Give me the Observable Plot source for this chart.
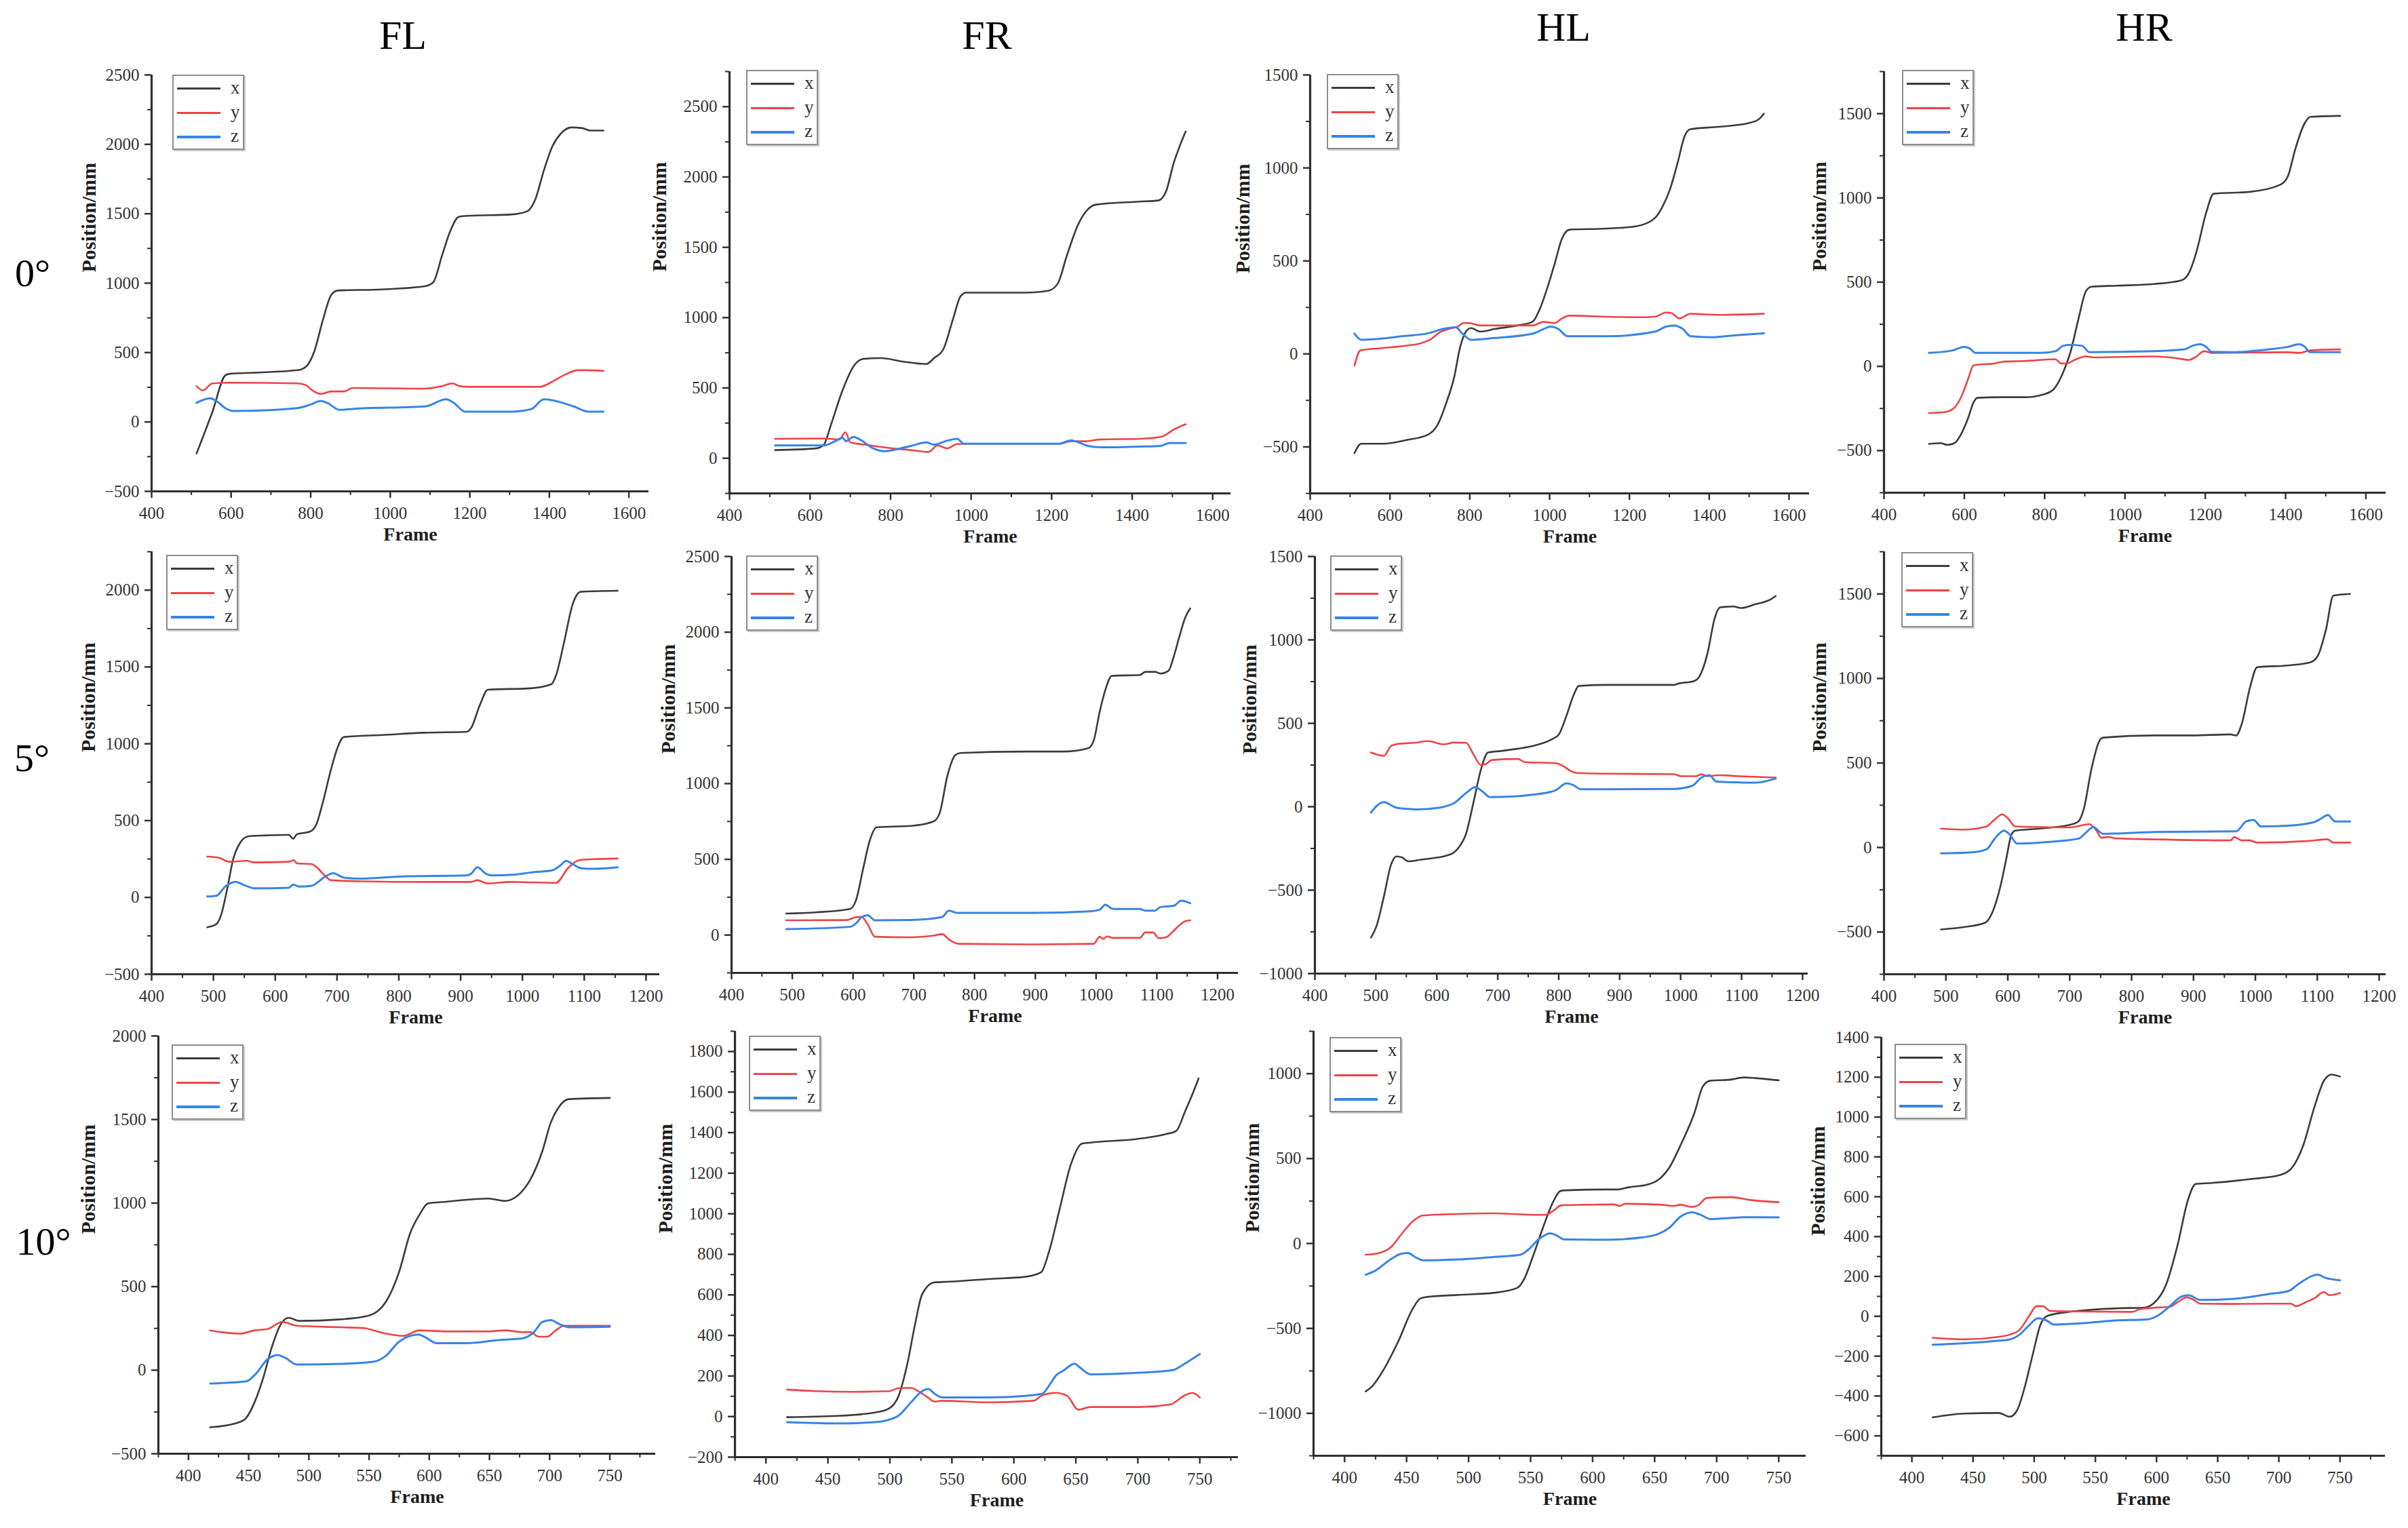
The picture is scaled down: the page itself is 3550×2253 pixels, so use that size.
<!DOCTYPE html>
<html>
<head>
<meta charset="utf-8">
<script src="https://cdn.jsdelivr.net/npm/d3@7"></script>
<script src="https://cdn.jsdelivr.net/npm/@observablehq/plot@0.6"></script>
<style>
  html, body { margin: 0; padding: 0; background: #fff; }
  #root { position: relative; width: 3550px; height: 2253px; overflow: hidden; background: #fff; font-family: "Liberation Serif", "Times New Roman", serif; }
  #root svg, #root svg text { font-family: "Liberation Serif", "Times New Roman", serif !important; }
  .ttl { position: absolute; transform: translate(-50%, -50%); line-height: 1; font-size: 60px; color: #000; white-space: nowrap; }
  .legend { position: absolute; box-sizing: border-box; width: 106px; height: 111px; border: 2px solid #8c8c8c; box-shadow: 2px 2px 0 #c9c9c9; background: #fff; }
  .lg-line { position: absolute; left: 5px; width: 64px; }
  .lg-text { position: absolute; left: 84px; font-size: 27px; line-height: 1; color: #333; transform: translateY(-55%); }
</style>
</head>
<body>
<div id="root"></div>
<script>
// ---------- labels ----------
const columnTitles = ["FL", "FR", "HL", "HR"];
const rowTitles = ["0°", "5°", "10°"];
const seriesNames = ["x", "y", "z"];
const seriesColors = ["#3b3b3b", "#ee4347", "#3784e6"];
const xLabel = "Frame";
const yLabel = "Position/mm";

// ---------- data: [frame, position mm] ----------
const FL_0_x = [[513,-227],[553,74],[585,335],[596,347],[660,355],[767,373],[788,398],[809,508],[831,738],[852,917],[868,947],[980,955],[1087,978],[1108,1006],[1130,1197],[1151,1376],[1172,1478],[1194,1485],[1301,1494],[1343,1516],[1365,1606],[1386,1810],[1408,1988],[1429,2078],[1456,2122],[1482,2117],[1504,2099],[1536,2099]];
const FL_0_y = [[513,258],[529,227],[553,278],[596,283],[767,278],[788,265],[804,227],[825,202],[852,220],[884,220],[905,245],[1087,240],[1130,258],[1157,278],[1172,260],[1194,253],[1376,253],[1408,291],[1440,342],[1472,373],[1493,373],[1536,368]];
const FL_0_z = [[513,138],[547,171],[563,151],[585,100],[606,79],[767,100],[799,125],[825,151],[841,138],[873,87],[905,94],[1087,112],[1141,163],[1157,143],[1189,74],[1301,74],[1354,92],[1386,163],[1408,156],[1461,112],[1499,74],[1536,74]];

const FR_0_x = [[513,58],[615,70],[634,96],[653,247],[681,486],[710,662],[733,707],[776,712],[832,687],[889,670],[908,712],[931,775],[955,989],[974,1153],[988,1178],[1135,1178],[1191,1191],[1215,1241],[1238,1443],[1267,1669],[1290,1770],[1309,1803],[1418,1825],[1465,1833],[1484,1896],[1503,2097],[1522,2248],[1533,2324]];
const FR_0_y = [[513,138],[634,141],[672,133],[688,184],[700,113],[738,96],[804,70],[851,58],[894,45],[917,91],[941,70],[965,101],[993,103],[1219,103],[1248,121],[1286,121],[1319,133],[1418,138],[1474,154],[1503,204],[1533,242]];
const FR_0_z = [[513,91],[634,91],[662,121],[681,146],[689,121],[708,151],[724,133],[757,70],[785,50],[814,63],[851,88],[889,113],[908,96],[936,121],[965,138],[983,103],[1135,103],[1219,103],[1248,128],[1267,113],[1290,88],[1323,78],[1418,83],[1470,88],[1493,108],[1533,108]];

const HL_0_x = [[511,-534],[528,-483],[584,-483],[640,-464],[696,-433],[719,-382],[742,-258],[761,-124],[775,29],[789,115],[803,139],[826,120],[863,134],[919,153],[957,172],[975,239],[994,353],[1013,487],[1031,620],[1050,668],[1143,674],[1218,687],[1264,731],[1283,792],[1302,887],[1320,1021],[1339,1174],[1353,1208],[1423,1221],[1497,1240],[1525,1263],[1537,1292]];
const HL_0_y = [[511,-63],[526,19],[584,32],[640,44],[677,57],[700,76],[724,115],[747,134],[770,147],[784,166],[798,166],[826,153],[957,153],[985,172],[1013,166],[1031,191],[1050,206],[1143,200],[1236,197],[1264,200],[1292,223],[1306,219],[1325,191],[1353,216],[1423,210],[1537,216]];
const HL_0_z = [[511,109],[528,76],[565,80],[630,95],[696,111],[733,134],[765,143],[779,115],[803,76],[863,86],[957,109],[985,134],[1003,147],[1022,134],[1045,95],[1143,95],[1264,120],[1292,147],[1311,153],[1334,134],[1353,95],[1404,90],[1469,101],[1537,111]];

const HR_0_x = [[512,-460],[542,-456],[557,-466],[575,-456],[594,-393],[609,-309],[623,-214],[632,-187],[694,-183],[751,-183],[798,-166],[822,-137],[846,-36],[865,90],[884,279],[903,447],[917,473],[979,479],[1073,489],[1140,510],[1159,553],[1178,679],[1202,910],[1221,1025],[1311,1036],[1387,1078],[1406,1130],[1424,1288],[1448,1445],[1462,1481],[1536,1487]];
const HR_0_y = [[512,-277],[552,-271],[575,-246],[594,-172],[609,-78],[623,6],[637,11],[675,17],[694,27],[751,32],[827,42],[841,17],[855,17],[874,38],[903,59],[922,53],[1073,59],[1130,48],[1159,38],[1178,59],[1197,90],[1216,80],[1406,84],[1434,80],[1462,95],[1536,101]];
const HR_0_z = [[512,80],[571,95],[599,116],[613,107],[628,80],[694,80],[789,80],[827,90],[846,122],[865,128],[893,122],[912,84],[1073,90],[1149,101],[1168,122],[1187,132],[1202,116],[1216,86],[1263,84],[1358,101],[1406,116],[1434,132],[1448,116],[1461,84],[1536,84]];

const FL_5_x = [[490,-194],[505,-173],[512,-120],[522,49],[532,249],[543,354],[556,397],[567,401],[580,403],[622,407],[629,382],[635,411],[656,428],[666,470],[677,618],[690,829],[701,977],[711,1044],[773,1057],[841,1072],[910,1078],[917,1103],[931,1251],[944,1352],[1013,1361],[1047,1388],[1054,1441],[1068,1673],[1081,1905],[1094,1989],[1154,1996]];
const FL_5_y = [[490,266],[508,259],[526,232],[553,238],[567,228],[622,232],[630,243],[635,222],[659,217],[666,200],[680,143],[690,112],[738,105],[841,101],[917,101],[927,112],[944,91],[979,101],[1054,95],[1075,196],[1092,243],[1116,249],[1154,253]];
const FL_5_z = [[490,6],[505,11],[519,70],[536,101],[550,80],[567,59],[622,63],[629,84],[639,70],[659,76],[680,133],[694,158],[711,129],[738,122],[807,137],[910,143],[917,154],[927,196],[941,154],[951,143],[985,148],[1020,165],[1047,175],[1061,207],[1071,238],[1081,217],[1095,190],[1116,186],[1154,196]];

const FR_5_x = [[490,142],[539,150],[595,172],[605,232],[617,446],[627,618],[639,712],[696,721],[733,751],[743,811],[755,1047],[768,1187],[777,1202],[884,1212],[946,1212],[987,1234],[996,1283],[1006,1476],[1015,1616],[1026,1712],[1072,1717],[1081,1738],[1097,1738],[1106,1727],[1119,1745],[1128,1841],[1137,1970],[1147,2099],[1155,2157]];
const FR_5_y = [[490,97],[589,99],[605,118],[614,120],[624,71],[636,-11],[696,-15],[733,-4],[747,6],[758,-30],[774,-58],[884,-62],[996,-58],[1006,-11],[1012,-26],[1018,-9],[1028,-19],[1072,-19],[1081,17],[1094,17],[1103,-21],[1115,-15],[1125,17],[1137,64],[1147,92],[1155,97]];
const FR_5_z = [[490,39],[595,54],[605,77],[614,118],[624,131],[636,97],[696,99],[746,118],[758,161],[771,146],[884,146],[990,157],[1006,167],[1015,200],[1028,172],[1072,172],[1081,161],[1097,161],[1106,185],[1128,193],[1140,227],[1155,210]];

const HL_5_x = [[492,-784],[501,-716],[513,-541],[525,-346],[534,-298],[543,-304],[553,-327],[574,-317],[617,-292],[635,-249],[648,-161],[660,23],[672,218],[684,325],[708,335],[733,348],[757,364],[788,403],[800,432],[813,549],[824,665],[833,724],[879,730],[989,730],[995,737],[1022,753],[1031,782],[1044,918],[1056,1132],[1065,1195],[1087,1200],[1099,1191],[1123,1214],[1148,1243],[1156,1263]];
const HL_5_y = [[492,325],[513,305],[525,364],[537,377],[562,383],[586,393],[611,374],[629,385],[648,383],[660,315],[672,251],[681,257],[690,280],[733,286],[745,267],[794,261],[806,247],[818,218],[830,202],[873,198],[989,195],[1001,183],[1025,183],[1034,195],[1044,183],[1062,189],[1096,183],[1156,175]];
const HL_5_z = [[492,-35],[501,4],[513,27],[534,-6],[550,-12],[568,-16],[604,-6],[629,23],[648,82],[663,117],[675,91],[687,58],[727,62],[757,72],[794,97],[813,140],[824,130],[836,105],[873,105],[989,107],[1019,125],[1034,175],[1047,189],[1059,150],[1093,146],[1123,144],[1156,169]];

const HR_5_x = [[492,-485],[529,-471],[563,-446],[575,-385],[588,-231],[597,-77],[606,77],[612,100],[652,112],[701,135],[714,154],[723,231],[735,462],[748,631],[754,650],[837,663],[898,663],[960,669],[969,663],[978,731],[991,942],[1003,1067],[1052,1077],[1089,1096],[1101,1135],[1114,1288],[1126,1490],[1153,1500]];
const HR_5_y = [[492,112],[529,106],[566,125],[578,163],[591,196],[600,173],[612,125],[652,121],[701,119],[732,138],[744,96],[751,58],[763,62],[775,54],[837,48],[960,42],[966,62],[978,42],[991,42],[1003,29],[1083,38],[1117,48],[1126,29],[1153,29]];
const HR_5_z = [[492,-35],[541,-29],[566,-10],[578,48],[594,100],[603,77],[615,23],[652,29],[714,52],[726,87],[738,121],[754,81],[775,83],[837,92],[969,96],[985,154],[997,163],[1009,125],[1052,129],[1095,150],[1107,173],[1117,192],[1129,154],[1153,154]];

const FL_10_x = [[418,-342],[441,-314],[448,-285],[455,-190],[462,-48],[469,133],[476,266],[483,314],[492,295],[526,304],[550,327],[557,352],[564,409],[575,589],[584,817],[592,932],[599,998],[614,1008],[649,1027],[663,1013],[675,1055],[684,1141],[694,1312],[701,1483],[707,1568],[716,1622],[750,1629]];
const FL_10_y = [[418,238],[427,228],[443,219],[455,238],[466,247],[478,289],[490,266],[526,257],[547,251],[554,238],[564,219],[578,205],[592,238],[614,232],[649,232],[663,238],[677,228],[684,228],[691,200],[698,200],[705,238],[712,266],[750,266]];
const FL_10_z = [[418,-80],[448,-67],[455,-29],[466,67],[474,91],[480,76],[490,34],[526,38],[554,51],[564,86],[575,171],[591,213],[596,200],[606,162],[631,162],[659,181],[677,190],[687,228],[694,289],[701,300],[708,276],[716,257],[750,260]];

const FR_10_x = [[417,-3],[456,3],[487,19],[499,39],[507,102],[514,258],[520,446],[526,603],[536,662],[548,665],[579,678],[609,689],[622,712],[628,806],[637,1025],[646,1244],[655,1346],[662,1351],[701,1370],[723,1393],[731,1409],[738,1503],[744,1589],[749,1667]];
const FR_10_y = [[417,133],[441,125],[471,122],[499,125],[508,141],[517,141],[523,125],[530,97],[536,74],[542,78],[579,70],[616,78],[622,102],[628,113],[634,117],[643,102],[652,34],[662,47],[701,47],[726,59],[738,105],[744,117],[750,94]];
const FR_10_z = [[417,-28],[456,-34],[487,-28],[499,-16],[507,5],[517,70],[526,125],[531,136],[536,113],[542,94],[579,94],[609,102],[623,113],[628,149],[634,203],[640,227],[649,261],[653,243],[662,208],[701,216],[729,230],[735,250],[750,308]];

const HL_10_x = [[417,-871],[422,-843],[431,-749],[443,-581],[455,-384],[461,-324],[466,-315],[491,-303],[521,-290],[539,-262],[545,-206],[551,-94],[560,94],[568,243],[574,309],[578,313],[611,318],[620,318],[629,331],[644,346],[653,375],[662,449],[671,581],[682,768],[689,927],[695,959],[710,964],[722,978],[731,974],[750,961]];
const HL_10_y = [[417,-66],[428,-56],[437,-24],[446,56],[455,131],[463,165],[491,174],[521,178],[551,169],[562,169],[568,191],[575,225],[596,228],[617,230],[622,221],[626,234],[656,228],[665,221],[671,228],[680,215],[685,225],[692,268],[704,272],[713,272],[725,258],[750,243]];
const HL_10_z = [[417,-184],[425,-159],[437,-94],[445,-62],[451,-56],[458,-84],[464,-99],[491,-94],[521,-79],[542,-66],[548,-37],[557,28],[566,60],[571,47],[577,24],[611,22],[641,37],[653,56],[662,94],[671,159],[680,184],[687,169],[695,144],[710,150],[722,155],[750,154]];

const HR_10_x = [[417,-507],[443,-488],[471,-485],[480,-504],[486,-472],[492,-361],[499,-187],[505,-44],[511,3],[536,27],[567,40],[589,43],[598,67],[608,162],[617,352],[626,590],[632,664],[645,669],[676,688],[701,709],[710,740],[720,859],[729,1049],[737,1184],[743,1213],[750,1203]];
const HR_10_y = [[417,-108],[443,-116],[468,-105],[480,-92],[488,-68],[496,3],[502,51],[507,51],[513,27],[536,24],[580,22],[586,35],[598,43],[611,48],[617,70],[625,95],[629,87],[636,63],[660,62],[691,63],[710,63],[714,51],[722,71],[729,90],[737,122],[741,106],[750,117]];
const HR_10_z = [[417,-143],[443,-135],[468,-124],[480,-116],[488,-92],[496,-44],[503,-10],[510,-21],[516,-41],[536,-36],[567,-21],[592,-16],[601,3],[611,51],[620,98],[626,106],[636,82],[660,86],[691,111],[708,127],[716,162],[732,209],[738,193],[750,181]];

// ---------- axis ticks (per row for x, per panel for y) ----------
const xTicksByRow = [
  [400, 600, 800, 1000, 1200, 1400, 1600],
  [400, 500, 600, 700, 800, 900, 1000, 1100, 1200],
  [400, 450, 500, 550, 600, 650, 700, 750]
];
const xMinorByRow = [100, 50, 25];
const xDomains = [
  [400, 1650], [400, 1645], [400, 1651], [400, 1650],
  [400, 1222], [400, 1234], [400, 1209], [400, 1211],
  [375, 788], [375, 781], [375, 772], [375, 787]
];
const yDomains = [
  [-500, 2500], [-250, 2750], [-750, 1500], [-750, 1750],
  [-500, 2250], [-250, 2500], [-1000, 1500], [-750, 1750],
  [-500, 2000], [-200, 1900], [-1250, 1250], [-700, 1400]
];
const yTicks = [
  [-500, 0, 500, 1000, 1500, 2000, 2500], [0, 500, 1000, 1500, 2000, 2500], [-500, 0, 500, 1000, 1500], [-500, 0, 500, 1000, 1500],
  [-500, 0, 500, 1000, 1500, 2000], [0, 500, 1000, 1500, 2000, 2500], [-1000, -500, 0, 500, 1000, 1500], [-500, 0, 500, 1000, 1500],
  [-500, 0, 500, 1000, 1500, 2000], [-200, 0, 200, 400, 600, 800, 1000, 1200, 1400, 1600, 1800], [-1000, -500, 0, 500, 1000], [-600, -400, -200, 0, 200, 400, 600, 800, 1000, 1200, 1400]
];
const yMinor = [250, 250, 250, 250, 250, 250, 250, 250, 250, 100, 250, 100];

const panelData = [
  [FL_0_x, FL_0_y, FL_0_z], [FR_0_x, FR_0_y, FR_0_z], [HL_0_x, HL_0_y, HL_0_z], [HR_0_x, HR_0_y, HR_0_z],
  [FL_5_x, FL_5_y, FL_5_z], [FR_5_x, FR_5_y, FR_5_z], [HL_5_x, HL_5_y, HL_5_z], [HR_5_x, HR_5_y, HR_5_z],
  [FL_10_x, FL_10_y, FL_10_z], [FR_10_x, FR_10_y, FR_10_z], [HL_10_x, HL_10_y, HL_10_z], [HR_10_x, HR_10_y, HR_10_z]
];

// ---------- layout (page pixels): axisLeft, axisRight, axisTop, axisBottom, legendLeft, legendTop, yLabelOffset ----------
const layout = [
  [223, 956, 110, 724, 254, 110, 92],
  [1075, 1814, 105, 727, 1100, 103, 103],
  [1931, 2667, 110, 727, 1956, 109, 99],
  [2777, 3517, 105, 726, 2804, 103, 95],
  [223, 972, 813, 1436, 245, 818, 93],
  [1078, 1825, 820, 1434, 1100, 819, 93],
  [1938, 2665, 820, 1435, 1961, 819, 96],
  [2777, 3517, 813, 1436, 2803, 814, 95],
  [233, 966, 1527, 2143, 253, 1540, 103],
  [1083, 1825, 1520, 2148, 1104, 1527, 102],
  [1936, 2662, 1520, 2146, 1960, 1529, 90],
  [2773, 3516, 1529, 2146, 2793, 1539, 93]
];
const titlePos = [[594, 52], [1455, 52], [2305, 40], [3161, 40]];
const rowTitlePos = [[48, 403], [47, 1118], [64, 1831]];

// ---------- build ----------
const root = document.getElementById("root");
const FONT = '"Liberation Serif", "Times New Roman", serif';
const fmt = d => d < 0 ? "\u2212" + Math.abs(d) : String(d);
const minorTicks = (dom, step, majors) =>
  d3.range(dom[0], dom[1] + 1e-6, step).map(v => Math.round(v * 1000) / 1000).filter(v => !majors.includes(v));

const ML = 150, MR = 40, MT = 14, MB = 110;
const axisColor = "#2e2e2e";

panelData.forEach((series, i) => {
  const row = Math.floor(i / 4);
  const [aL, aR, aT, aB, lgL, lgT, labOff] = layout[i];
  const width = ML + (aR - aL) + MR;
  const height = MT + (aB - aT) + MB;
  const xd = xDomains[i], yd = yDomains[i];
  const xMaj = xTicksByRow[row];
  const xMin = minorTicks(xd, xMinorByRow[row], xMaj);
  const yMaj = yTicks[i];
  const yMin = minorTicks(yd, yMinor[i], yMaj);

  const marks = [
    Plot.axisX(xMin, {anchor: "bottom", tickSize: 6, tickFormat: () => "", stroke: axisColor, strokeWidth: 2, label: null}),
    Plot.axisX(xMaj, {anchor: "bottom", tickSize: 10, tickPadding: 13, tickFormat: fmt, fontSize: 25, fontFamily: FONT, color: "#333", strokeWidth: 2.5, label: null}),
    Plot.axisY(yMin, {anchor: "left", tickSize: 6, tickFormat: () => "", stroke: axisColor, strokeWidth: 2, label: null}),
    Plot.axisY(yMaj, {anchor: "left", tickSize: 10, tickPadding: 8, tickFormat: fmt, fontSize: 25, fontFamily: FONT, color: "#333", strokeWidth: 2.5, label: null}),
    Plot.ruleX([xd[0]], {stroke: axisColor, strokeWidth: 3.2}),
    Plot.ruleY([yd[0]], {stroke: axisColor, strokeWidth: 3.2}),
    Plot.text([xLabel], {text: d => d, frameAnchor: "bottom", dx: 15, dy: 72, fontSize: 28, fontFamily: FONT, fontWeight: "bold", fill: "#1e1e1e"}),
    Plot.text([yLabel], {text: d => d, frameAnchor: "left", dx: -labOff, dy: -16, rotate: -90, fontSize: 30, fontFamily: FONT, fontWeight: "bold", fill: "#1e1e1e"})
  ];
  series.forEach((pts, k) => {
    marks.push(Plot.line(pts, {x: d => d[0], y: d => d[1], stroke: seriesColors[k], strokeWidth: k === 2 ? 3 : 2.6, curve: "monotone-x"}));
  });

  const svg = Plot.plot({
    width, height,
    marginLeft: ML, marginRight: MR, marginTop: MT, marginBottom: MB,
    x: {domain: xd},
    y: {domain: yd},
    style: {fontFamily: FONT, fontSize: "25px", background: "transparent", maxWidth: "none", overflow: "visible"},
    marks
  });
  svg.setAttribute("font-family", FONT);

  const left = aL - ML, top = aT - MT;
  const wrap = document.createElement("div");
  wrap.style.cssText = `position:absolute;left:${left}px;top:${top}px;width:${width}px;height:${height}px;`;
  wrap.appendChild(svg);

  // legend
  const lg = document.createElement("div");
  lg.className = "legend";
  lg.style.left = (lgL - left) + "px";
  lg.style.top = (lgT - top) + "px";
  seriesNames.forEach((name, k) => {
    const cy = [19, 55, 90][k];
    const ln = document.createElement("div");
    ln.className = "lg-line";
    ln.style.top = (cy - 2) + "px";
    ln.style.height = (k === 2 ? 4 : 3) + "px";
    ln.style.background = seriesColors[k];
    lg.appendChild(ln);
    const tx = document.createElement("div");
    tx.className = "lg-text";
    tx.style.top = cy + "px";
    tx.textContent = name;
    lg.appendChild(tx);
  });
  wrap.appendChild(lg);
  root.appendChild(wrap);
});

columnTitles.forEach((t, j) => {
  const d = document.createElement("div");
  d.className = "ttl";
  d.style.left = titlePos[j][0] + "px";
  d.style.top = titlePos[j][1] + "px";
  d.textContent = t;
  root.appendChild(d);
});
rowTitles.forEach((t, r) => {
  const d = document.createElement("div");
  d.className = "ttl";
  d.style.fontSize = "58px";
  d.style.left = rowTitlePos[r][0] + "px";
  d.style.top = rowTitlePos[r][1] + "px";
  d.textContent = t;
  root.appendChild(d);
});
</script>
</body>
</html>
